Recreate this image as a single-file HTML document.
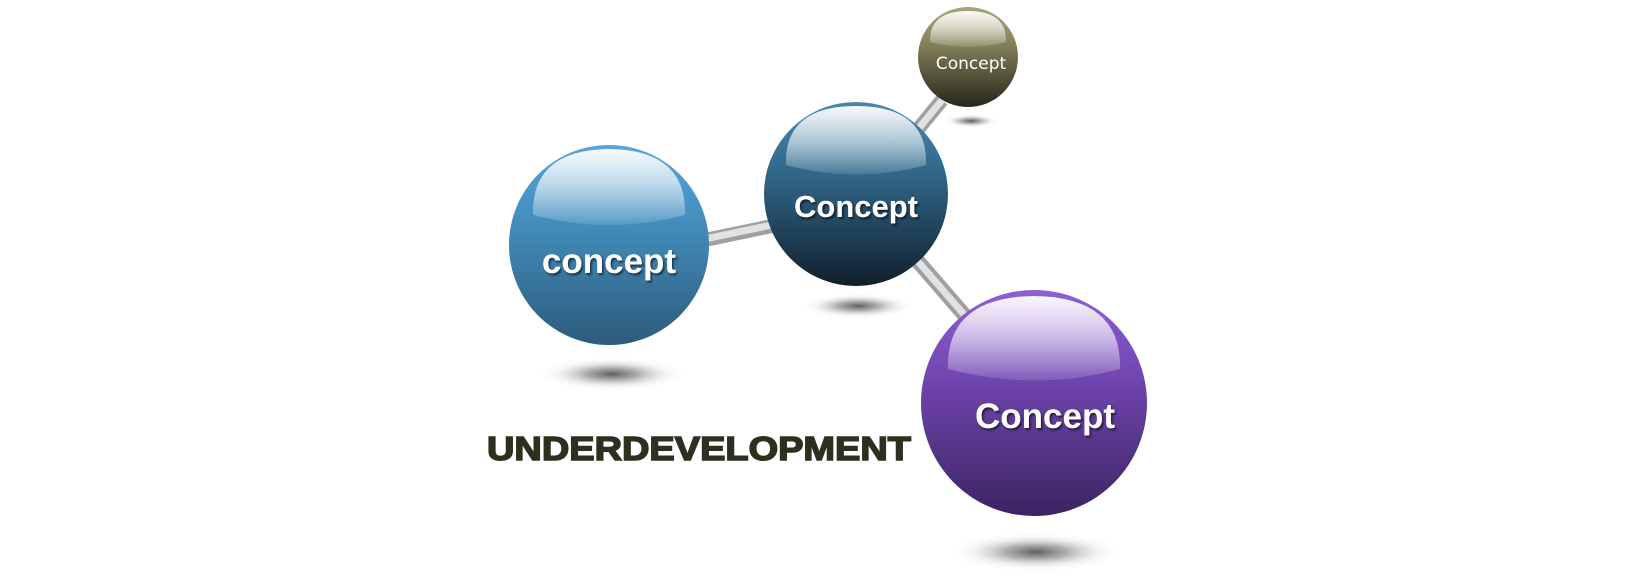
<!DOCTYPE html>
<html><head><meta charset="utf-8"><style>
html,body{margin:0;padding:0;background:#fff;width:1641px;height:584px;overflow:hidden}
</style></head><body>
<svg width="1641" height="584" viewBox="0 0 1641 584" xmlns="http://www.w3.org/2000/svg">
<defs>
<radialGradient id="sh"><stop offset="0" stop-color="#555" stop-opacity="0.95"/><stop offset="0.35" stop-color="#777" stop-opacity="0.6"/><stop offset="0.7" stop-color="#bbb" stop-opacity="0.2"/><stop offset="1" stop-color="#fff" stop-opacity="0"/></radialGradient>
<linearGradient id="gBlue" x1="0" y1="0" x2="0" y2="1"><stop offset="0" stop-color="#56a6d6"/><stop offset="0.35" stop-color="#4490c0"/><stop offset="1" stop-color="#2d5b7c"/></linearGradient>
<linearGradient id="gTeal" x1="0" y1="0" x2="0" y2="1"><stop offset="0" stop-color="#4a86ad"/><stop offset="0.35" stop-color="#336b8e"/><stop offset="1" stop-color="#10202c"/></linearGradient>
<linearGradient id="gOlive" x1="0" y1="0" x2="0" y2="1"><stop offset="0" stop-color="#a9a67a"/><stop offset="0.35" stop-color="#87845c"/><stop offset="1" stop-color="#26261a"/></linearGradient>
<linearGradient id="gPurp" x1="0" y1="0" x2="0" y2="1"><stop offset="0" stop-color="#8d60d6"/><stop offset="0.35" stop-color="#7348b4"/><stop offset="1" stop-color="#3c2462"/></linearGradient>
<linearGradient id="gl" x1="0" y1="0" x2="0" y2="1"><stop offset="0" stop-color="#fff" stop-opacity="0.95"/><stop offset="0.5" stop-color="#fff" stop-opacity="0.6"/><stop offset="1" stop-color="#fff" stop-opacity="0.12"/></linearGradient>
<filter id="ts" x="-10%" y="-20%" width="130%" height="150%"><feDropShadow dx="1.5" dy="2" stdDeviation="1" flood-color="#000" flood-opacity="0.6"/></filter>
</defs>
<!-- shadows -->
<ellipse cx="612" cy="374" rx="75" ry="17" fill="url(#sh)"/>
<ellipse cx="858" cy="306" rx="58" ry="13" fill="url(#sh)"/>
<ellipse cx="971" cy="121" rx="28" ry="7" fill="url(#sh)"/>
<ellipse cx="1036" cy="552" rx="88" ry="20" fill="url(#sh)"/>
<!-- rods -->
<g stroke-linecap="butt">
<line x1="700" y1="241" x2="772" y2="226" stroke="#a0a0a0" stroke-width="14"/>
<line x1="700" y1="240" x2="772" y2="225" stroke="#e2e2e2" stroke-width="7"/>
<line x1="919" y1="128" x2="942" y2="100" stroke="#a0a0a0" stroke-width="14"/>
<line x1="919" y1="128" x2="942" y2="100" stroke="#e2e2e2" stroke-width="7"/>
<line x1="915" y1="258" x2="967" y2="318" stroke="#a0a0a0" stroke-width="15"/>
<line x1="915" y1="258" x2="967" y2="318" stroke="#e2e2e2" stroke-width="7"/>
</g>
<!-- spheres -->
<circle cx="609" cy="245" r="100" fill="url(#gBlue)"/>
<path d="M533 215 Q531 150 609 149 Q687 150 685 215 Q609 235 533 215 Z" fill="url(#gl)"/>
<circle cx="856" cy="194" r="92" fill="url(#gTeal)"/>
<path d="M786 165 Q784 106 856 106 Q928 106 926 165 Q856 184 786 165 Z" fill="url(#gl)"/>
<circle cx="968" cy="57" r="50" fill="url(#gOlive)"/>
<path d="M930 42 Q929 11 968 11 Q1007 11 1006 42 Q968 52 930 42 Z" fill="url(#gl)"/>
<circle cx="1034" cy="403" r="113" fill="url(#gPurp)"/>
<path d="M948 369 Q946 297 1034 296 Q1122 297 1120 369 Q1034 392 948 369 Z" fill="url(#gl)"/>
<!-- labels -->
<g font-family="Liberation Sans, sans-serif" font-weight="bold" fill="#fff" text-anchor="middle" filter="url(#ts)">
<text x="609" y="273" font-size="35">concept</text>
<text x="856" y="217" font-size="31">Concept</text>
<text x="1045" y="428" font-size="35">Concept</text>
</g>
<text x="971" y="69" font-family="DejaVu Sans, sans-serif" font-size="17" fill="#fff" text-anchor="middle">Concept</text>
<text x="487" y="460" font-family="Liberation Sans, sans-serif" font-weight="900" font-size="33" fill="#2f2f1f" stroke="#2f2f1f" stroke-width="1.5" textLength="424" lengthAdjust="spacingAndGlyphs">UNDERDEVELOPMENT</text>
</svg>
</body></html>
